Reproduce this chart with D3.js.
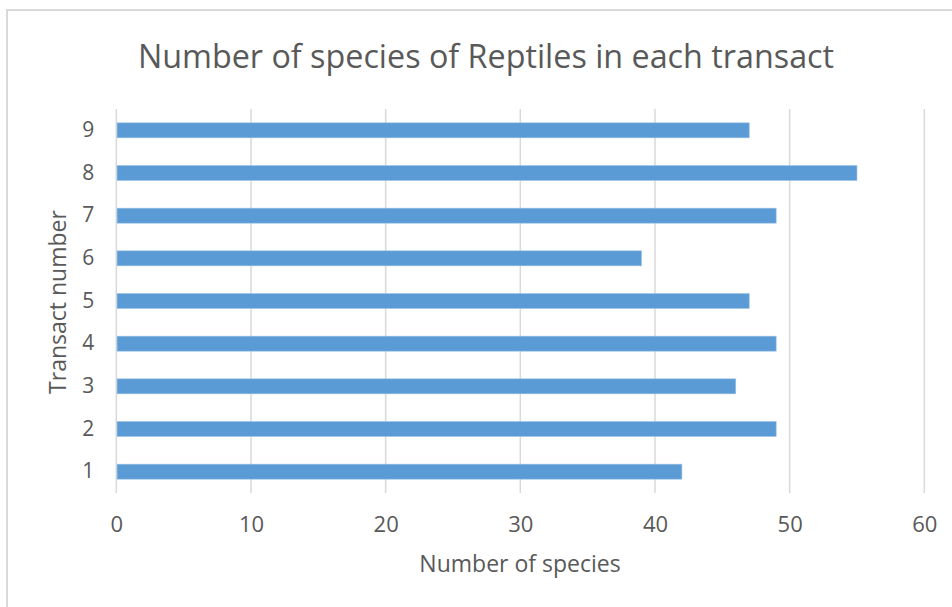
<!DOCTYPE html>
<html>
<head>
<meta charset="utf-8">
<script src="https://cdn.jsdelivr.net/npm/d3@7"></script>
<style>
  html, body { margin: 0; padding: 0; background: #fff; }
  svg { display: block; font-family: "Open Sans", sans-serif; }
</style>
</head>
<body>
<svg id="chart" width="952" height="607"></svg>
<script>
// Reptile species counts per transact
const transacts = ["1", "2", "3", "4", "5", "6", "7", "8", "9"];
const speciesCounts = [42, 49, 46, 49, 47, 39, 49, 55, 47];
const xTicks = [0, 10, 20, 30, 40, 50, 60];

const titleText = "Number of species of Reptiles in each transact";
const xTitle = "Number of species";
const yTitle = "Transact number";

const svg = d3.select("#chart");
const W = 952, H = 607;
const plot = { left: 116.3, right: 924.3, top: 109, bottom: 493 };
const textColor = "#595959";

// chart frame
svg.append("rect")
  .attr("x", 7).attr("y", 10)
  .attr("width", W + 20).attr("height", H + 20)
  .attr("fill", "#fff").attr("stroke", "#d9d9d9").attr("stroke-width", 2);

const x = d3.scaleLinear().domain([0, 60]).range([plot.left, plot.right]);
const y = d3.scaleBand()
  .domain(transacts.slice().reverse())
  .range([plot.top, plot.bottom])
  .paddingInner(0.648).paddingOuter(0.324);

// vertical gridlines
svg.append("g")
  .selectAll("line")
  .data(xTicks)
  .join("line")
  .attr("x1", d => x(d)).attr("x2", d => x(d))
  .attr("y1", plot.top).attr("y2", plot.bottom)
  .attr("stroke", "#d9d9d9").attr("stroke-width", 1.5);

// bars
svg.append("g")
  .selectAll("rect")
  .data(transacts.map((t, i) => ({ t, v: speciesCounts[i] })))
  .join("rect")
  .attr("x", x(0) + 0.75)
  .attr("y", d => y(d.t))
  .attr("width", d => x(d.v) - x(0) - 0.75)
  .attr("height", y.bandwidth())
  .attr("fill", "#5b9bd5")
  .attr("stroke", "#9dc3e6").attr("stroke-width", 0.6);

// x axis tick labels
const xAxis = d3.axisBottom(x).tickValues(xTicks).tickSize(0).tickPadding(0);
const gx = svg.append("g").attr("transform", `translate(0, ${plot.bottom + 23})`).call(xAxis);
gx.select(".domain").remove();
gx.selectAll("text")
  .attr("fill", textColor).attr("font-size", 22).attr("font-family", "Open Sans, sans-serif");

// y axis tick labels
const yAxis = d3.axisLeft(y).tickSize(0).tickPadding(0);
const gy = svg.append("g").attr("transform", `translate(${plot.left - 22}, 0)`).call(yAxis);
gy.select(".domain").remove();
gy.selectAll("text")
  .attr("fill", textColor).attr("font-size", 21).attr("font-family", "Open Sans, sans-serif");

// title
svg.append("text")
  .attr("x", 486).attr("y", 67.5)
  .attr("text-anchor", "middle")
  .attr("fill", textColor).attr("font-size", 32.3)
  .text(titleText);

// axis titles
svg.append("text")
  .attr("x", 520).attr("y", 572)
  .attr("text-anchor", "middle")
  .attr("fill", textColor).attr("font-size", 23)
  .text(xTitle);

svg.append("text")
  .attr("transform", "translate(66, 302) rotate(-90)")
  .attr("text-anchor", "middle")
  .attr("fill", textColor).attr("font-size", 23)
  .text(yTitle);
</script>
</body>
</html>
